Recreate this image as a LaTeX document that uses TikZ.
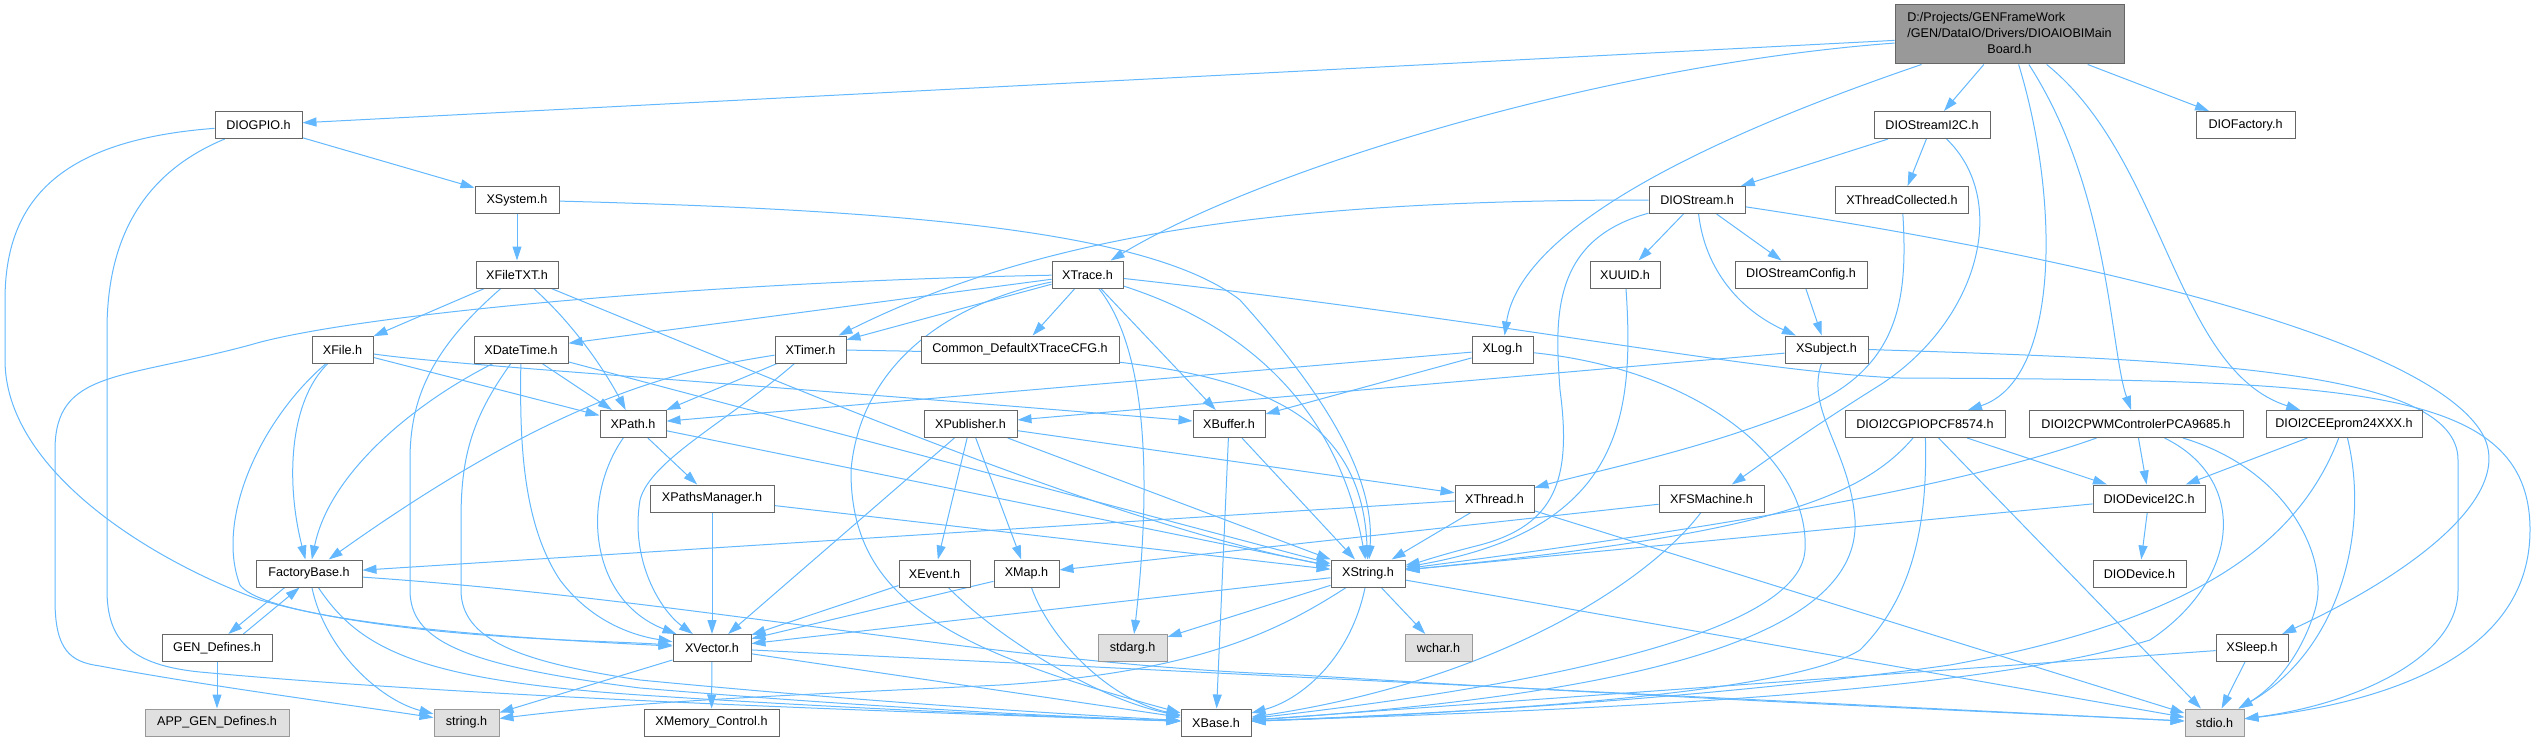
\documentclass[tikz,border=0pt]{standalone}
\usepackage{fontspec}
\setmainfont{Liberation Sans}
\usetikzlibrary{arrows.meta}
\definecolor{edgec}{HTML}{63B8FF}
\definecolor{bord}{HTML}{666666}
\definecolor{sysfill}{HTML}{E0E0E0}
\definecolor{sysbord}{HTML}{999999}
\definecolor{mainfill}{HTML}{999999}
\pgfdeclarelayer{bg}
\pgfsetlayers{bg,main}
\begin{document}
\begin{tikzpicture}[x=1pt,y=-1pt,
  nd/.style={draw=bord, fill=white, line width=1pt, minimum height=27pt, inner sep=0pt, font=\fontsize{12.6}{15}\selectfont},
  sysnd/.style={nd, draw=sysbord, fill=sysfill},
  e/.style={draw=edgec, line width=1pt, -{Triangle[length=14pt,width=9pt]}}]
\useasboundingbox (0,0) rectangle (2537,741);
% row 0
\node[nd, fill=mainfill, minimum width=229pt, minimum height=59pt, font=\fontsize{12.6}{16.2}\selectfont] (M) at (2009.5,34.5)
 {\begin{tabular}{@{}l@{}}D:/Projects/GENFrameWork\\/GEN/DataIO/Drivers/DIOAIOBIMain\\\multicolumn{1}{@{}c@{}}{Board.h}\end{tabular}};
% row 1
\node[nd, minimum width=87pt] (gpio) at (258.5,125) {DIOGPIO.h};
\node[nd, minimum width=116pt] (i2c) at (1932,125) {DIOStreamI2C.h};
\node[nd, minimum width=99pt] (fact) at (2245.5,125) {DIOFactory.h};
% row 2
\node[nd, minimum width=84pt] (sys) at (517,200) {XSystem.h};
\node[nd, minimum width=96pt] (stream) at (1697,200) {DIOStream.h};
\node[nd, minimum width=133pt] (tcol) at (1902,200) {XThreadCollected.h};
% row 3
\node[nd, minimum width=82pt] (ftxt) at (517,274.5) {XFileTXT.h};
\node[nd, minimum width=71pt] (trace) at (1087.5,274.5) {XTrace.h};
\node[nd, minimum width=70pt] (uuid) at (1625,274.5) {XUUID.h};
\node[nd, minimum width=132pt] (scfg) at (1801,274.5) {DIOStreamConfig.h};
% row 4
\node[nd, minimum width=61pt] (file) at (342.5,349.5) {XFile.h};
\node[nd, minimum width=94pt] (dt) at (521,349.5) {XDateTime.h};
\node[nd, minimum width=71pt] (timer) at (810.5,349.5) {XTimer.h};
\node[nd, minimum width=198pt] (cfg) at (1020,349.5) {Common\_DefaultXTraceCFG.h};
\node[nd, minimum width=61pt] (log) at (1502.5,349.5) {XLog.h};
\node[nd, minimum width=83pt] (subj) at (1826.5,349.5) {XSubject.h};
% row 5
\node[nd, minimum width=66pt] (path) at (633,424) {XPath.h};
\node[nd, minimum width=93pt] (pub) at (970.5,424) {XPublisher.h};
\node[nd, minimum width=72pt] (buf) at (1229,424) {XBuffer.h};
\node[nd, minimum width=160pt] (pcf) at (1925,424) {DIOI2CGPIOPCF8574.h};
\node[nd, minimum width=214pt] (pca) at (2136,424) {DIOI2CPWMControlerPCA9685.h};
\node[nd, minimum width=156pt] (eep) at (2344,424) {DIOI2CEEprom24XXX.h};
% row 6
\node[nd, minimum width=124pt] (pm) at (712,498.5) {XPathsManager.h};
\node[nd, minimum width=79pt] (thr) at (1494.5,498.5) {XThread.h};
\node[nd, minimum width=105pt] (fsm) at (1711.5,498.5) {XFSMachine.h};
\node[nd, minimum width=112pt] (devi2c) at (2149,498.5) {DIODeviceI2C.h};
% row 7
\node[nd, minimum width=106pt] (fb) at (309,573.5) {FactoryBase.h};
\node[nd, minimum width=71pt] (evt) at (934.5,573.5) {XEvent.h};
\node[nd, minimum width=65pt] (map) at (1026.5,573.5) {XMap.h};
\node[nd, minimum width=74pt] (str) at (1368,573.5) {XString.h};
\node[nd, minimum width=93pt] (dev) at (2139.5,573.5) {DIODevice.h};
% row 8
\node[nd, minimum width=110pt] (gen) at (217,648) {GEN\_Defines.h};
\node[nd, minimum width=78pt] (vec) at (712,648) {XVector.h};
\node[sysnd, minimum width=69pt] (stdarg) at (1132.5,648) {stdarg.h};
\node[sysnd, minimum width=67pt] (wchar) at (1438.5,648) {wchar.h};
\node[nd, minimum width=72pt] (sleep) at (2252,648) {XSleep.h};
% row 9
\node[sysnd, minimum width=144pt] (app) at (217,722.5) {APP\_GEN\_Defines.h};
\node[sysnd, minimum width=65pt] (strh) at (466.5,722.5) {string.h};
\node[nd, minimum width=135pt] (mem) at (711.5,722.5) {XMemory\_Control.h};
\node[nd, minimum width=70pt] (base) at (1216,722.5) {XBase.h};
\node[sysnd, minimum width=59pt] (stdio) at (2214.5,722.5) {stdio.h};

\begin{pgfonlayer}{bg}
% main
\draw[e] (M) -- (gpio);
\draw[e] (M) .. controls (1600,65) and (1260,170) .. (trace);
\draw[e] (M) .. controls (1700,140) and (1520,230) .. (log);
\draw[e] (M) -- (i2c);
\draw[e] (M) -- (fact);
\draw[e] (M) .. controls (2060,200) and (2060,380) .. (pcf);
\draw[e] (M) .. controls (2110,190) and (2110,350) .. (pca);
\draw[e] (M) .. controls (2165,160) and (2175,370) .. (eep);
% DIOGPIO
\draw[e] (gpio) -- (sys);
\draw[e] (gpio) .. controls (60,140) and (5,200) .. (5,300) -- (5,360) .. controls (5,470) and (150,560) .. (260,600) .. controls (400,640) and (600,640) .. (vec);
\draw[e] (gpio) .. controls (150,170) and (107,230) .. (107,330) -- (107,590) .. controls (107,640) and (130,665) .. (200,672) .. controls (500,700) and (1000,715) .. (base);
% XSystem
\draw[e] (sys) -- (ftxt);
\draw[e] (sys) .. controls (900,210) and (1150,230) .. (1240,300) .. controls (1330,400) and (1375,480) .. (str);
% XFileTXT
\draw[e] (ftxt) -- (file);
\draw[e] (ftxt.-40) .. controls (580,330) and (610,380) .. (path);
\draw[e] (ftxt) .. controls (430,350) and (410,400) .. (410,460) -- (410,590) .. controls (410,640) and (460,665) .. (640,688) .. controls (900,710) and (1100,718) .. (base);
\draw[e] (ftxt) .. controls (800,390) and (1100,520) .. (str);
% XFile
\draw[e] (file) -- (path);
\draw[e] (file) .. controls (450,365) and (700,380) .. (buf);
\draw[e] (file) .. controls (290,400) and (285,480) .. (fb);
\draw[e] (file) .. controls (260,420) and (215,520) .. (240,585) .. controls (270,625) and (550,640) .. (vec);
% XDateTime
\draw[e] (dt) .. controls (420,400) and (330,470) .. (fb);
\draw[e] (dt) -- (path);
\draw[e] (dt) .. controls (470,420) and (461,460) .. (461,520) -- (461,590) .. controls (461,640) and (520,662) .. (640,680) .. controls (900,705) and (1100,716) .. (base);
\draw[e] (dt) .. controls (520,430) and (520,520) .. (560,580) .. controls (590,620) and (630,635) .. (vec);
\draw[e] (dt) -- (str);
% XTrace
\draw[e] (trace) -- (timer);
\draw[e] (trace) -- (dt);
\draw[e] (trace) .. controls (700,282) and (350,315) .. (250,345) .. controls (120,380) and (55,370) .. (55,450) -- (55,600) .. controls (55,650) and (70,662) .. (100,666) .. controls (200,685) and (350,705) .. (strh);
\draw[e] (trace) .. controls (940,305) and (860,370) .. (851,470) .. controls (850,600) and (950,650) .. (base);
\draw[e] (trace) -- (cfg);
\draw[e] (trace) .. controls (1140,340) and (1155,450) .. (stdarg);
\draw[e] (trace) -- (buf);
\draw[e] (trace) .. controls (1260,330) and (1340,420) .. (str);
\draw[e] (trace) .. controls (1500,320) and (1750,372) .. (1900,378) .. controls (2350,380) and (2530,385) .. (2530,530) .. controls (2530,650) and (2400,700) .. (stdio);
% XTimer
\draw[e] (timer) -- (path);
\draw[e] (timer) .. controls (680,370) and (560,395) .. (fb);
\draw[e] (timer) .. controls (730,420) and (650,460) .. (640,500) .. controls (630,560) and (660,610) .. (vec);
\draw[e] (timer) .. controls (1150,355) and (1360,360) .. (str);
% XLog
\draw[e] (log) -- (path);
\draw[e] (log) -- (buf);
\draw[e] (log) .. controls (1700,370) and (1810,460) .. (1805,550) .. controls (1800,640) and (1500,690) .. (base);
% DIOStream
\draw[e] (stream) .. controls (1300,200) and (1050,230) .. (timer);
\draw[e] (stream) -- (uuid);
\draw[e] (stream) -- (scfg);
\draw[e] (stream) .. controls (1705,270) and (1740,310) .. (subj);
\draw[e] (stream) .. controls (1550,240) and (1555,320) .. (1560,390) .. controls (1572,480) and (1555,525) .. (1480,545) .. controls (1440,555) and (1420,562) .. (str);
\draw[e] (stream.-8) .. controls (2100,260) and (2420,340) .. (2480,430) .. controls (2520,490) and (2420,570) .. (sleep);
% XUUID, config, subject
\draw[e] (uuid) .. controls (1635,420) and (1620,530) .. (str);
\draw[e] (scfg) -- (subj);
\draw[e] (subj) -- (pub);
\draw[e] (subj) .. controls (1805,410) and (1850,450) .. (1855,520) .. controls (1860,620) and (1700,690) .. (base);
\draw[e] (subj.east) .. controls (2200,360) and (2458,370) .. (2458,460) -- (2458,590) .. controls (2458,660) and (2350,705) .. (stdio);
% DIOStreamI2C
\draw[e] (i2c) -- (stream);
\draw[e] (i2c) -- (tcol);
\draw[e] (i2c) .. controls (2010,200) and (1980,320) .. (1880,385) .. controls (1800,435) and (1760,465) .. (fsm);
\draw[e] (tcol) .. controls (1908,300) and (1900,370) .. (1800,410) .. controls (1700,450) and (1600,470) .. (thr);
% XPath etc
\draw[e] (path) -- (pm);
\draw[e] (path) .. controls (580,500) and (590,600) .. (vec);
\draw[e] (path) -- (str);
\draw[e] (pm) -- (vec);
\draw[e] (pm) -- (str);
\draw[e] (pub) -- (evt);
\draw[e] (pub) -- (map);
\draw[e] (pub) -- (vec);
\draw[e] (pub) -- (thr);
\draw[e] (pub) -- (str);
\draw[e] (buf) -- (base);
\draw[e] (buf) -- (str);
% I2C devices
\draw[e] (pcf) -- (devi2c);
\draw[e] (pcf) .. controls (1860,500) and (1760,535) .. (str);
\draw[e] (pcf) .. controls (1928,530) and (1910,600) .. (1860,650) .. controls (1780,700) and (1400,715) .. (base);
\draw[e] (pcf) -- (stdio);
\draw[e] (pca) -- (devi2c);
\draw[e] (pca) .. controls (1950,490) and (1700,530) .. (str);
\draw[e] (pca) .. controls (2250,480) and (2240,580) .. (2150,640) .. controls (1950,700) and (1500,712) .. (base);
\draw[e] (pca) .. controls (2290,470) and (2330,560) .. (2315,610) .. controls (2300,660) and (2270,690) .. (stdio);
\draw[e] (eep) -- (devi2c);
\draw[e] (eep) .. controls (2300,540) and (2200,620) .. (1950,665) .. controls (1700,700) and (1400,716) .. (base);
\draw[e] (eep) .. controls (2370,530) and (2340,650) .. (stdio);
\draw[e] (devi2c) -- (dev);
\draw[e] (devi2c) -- (str);
% XThread, XFSMachine
\draw[e] (thr) -- (fb);
\draw[e] (thr) -- (str);
\draw[e] (thr) -- (stdio);
\draw[e] (fsm) -- (map);
\draw[e] (fsm) .. controls (1650,580) and (1500,680) .. (base);
% FactoryBase, GEN
\draw[e] (fb.210) -- (gen.51);
\draw[e] (gen.28) -- (fb.236);
\draw[e] (fb) .. controls (325,650) and (380,700) .. (strh);
\draw[e] (fb) .. controls (360,650) and (420,680) .. (640,695) .. controls (900,712) and (1100,718) .. (base);
\draw[e] (fb) .. controls (700,600) and (1000,665) .. (1300,675) .. controls (1700,700) and (2000,712) .. (stdio);
\draw[e] (gen) -- (app);
% XEvent, XMap
\draw[e] (evt) -- (vec);
\draw[e] (evt) .. controls (1000,640) and (1100,700) .. (base);
\draw[e] (map) -- (vec);
\draw[e] (map) .. controls (1050,640) and (1110,700) .. (base);
% XString
\draw[e] (str) -- (vec);
\draw[e] (str) -- (stdarg);
\draw[e] (str) -- (wchar);
\draw[e] (str) .. controls (1350,660) and (1300,700) .. (base);
\draw[e] (str) .. controls (1280,630) and (1200,672) .. (1000,685) .. controls (800,695) and (650,700) .. (strh);
\draw[e] (str) -- (stdio);
% XVector
\draw[e] (vec) -- (mem);
\draw[e] (vec) -- (base);
\draw[e] (vec) -- (strh);
\draw[e] (vec) -- (stdio);
% XSleep
\draw[e] (sleep) -- (base);
\draw[e] (sleep) -- (stdio);
\end{pgfonlayer}
\end{tikzpicture}
\end{document}
